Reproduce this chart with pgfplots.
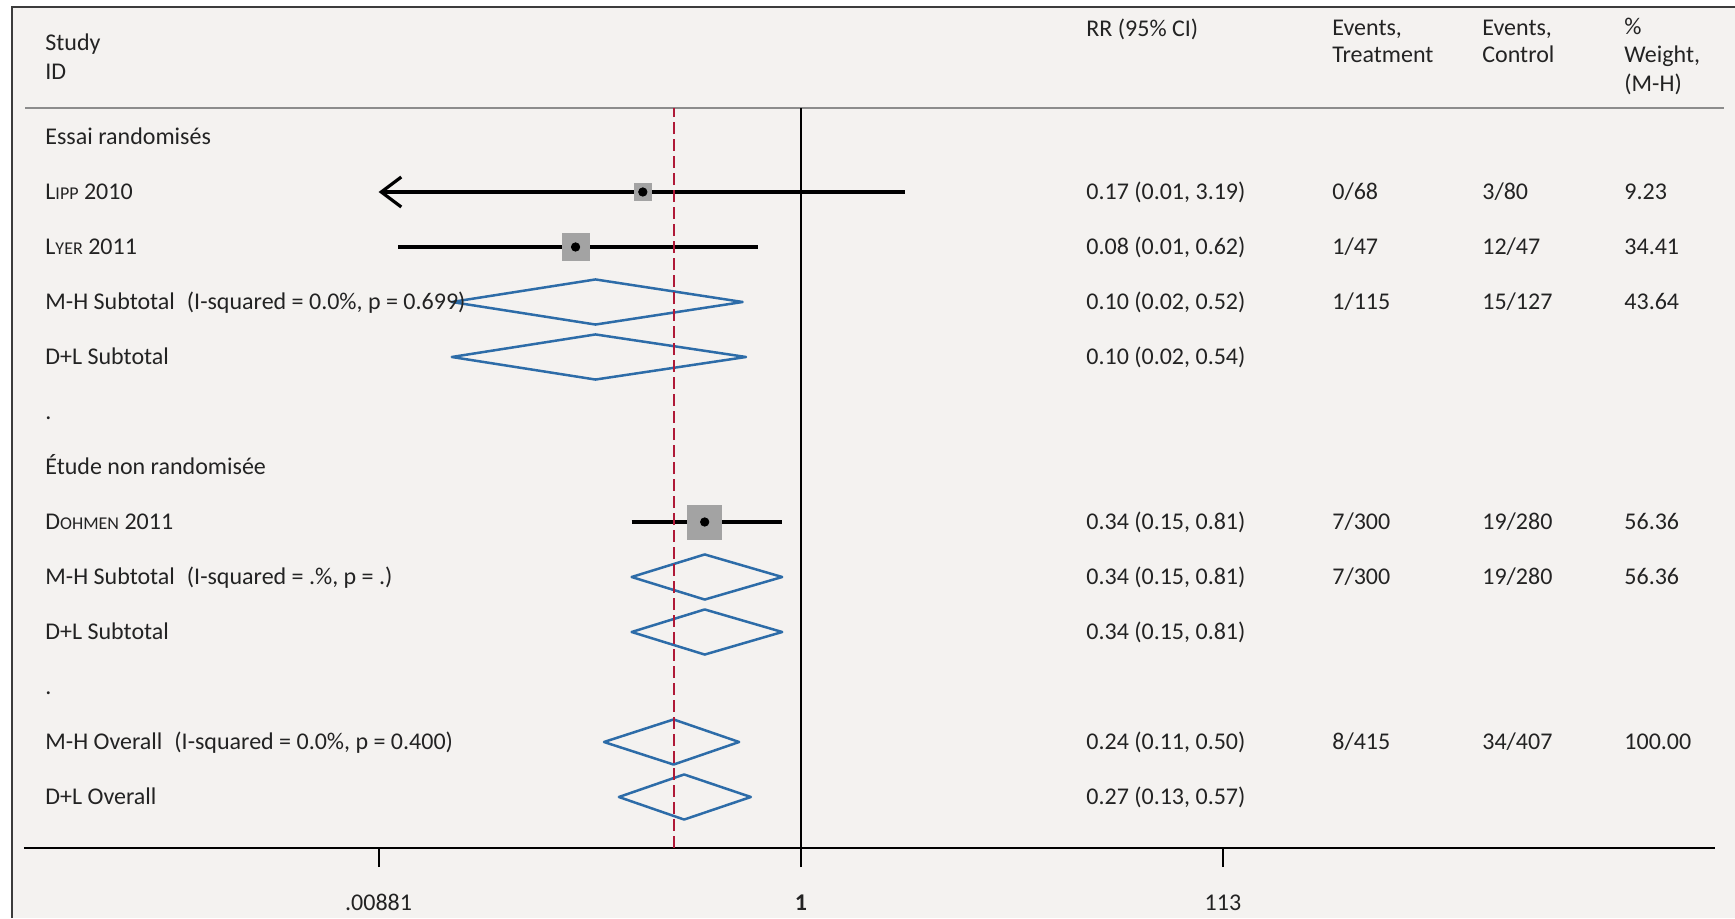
\documentclass[border=0pt]{standalone}
\usepackage{pgfplots}
\pgfplotsset{compat=1.18}
\usepackage{fontspec}
\setmainfont{Carlito}
\usetikzlibrary{arrows.meta}

\definecolor{panel}{RGB}{244,242,240}
\definecolor{framec}{RGB}{60,60,60}
\definecolor{rulec}{RGB}{140,140,140}
\definecolor{diam}{RGB}{45,108,168}
\definecolor{refred}{RGB}{175,25,55}
\definecolor{boxgray}{RGB}{163,163,163}
\definecolor{ink}{RGB}{35,35,35}

% small capitals for author names
\newcommand\SC[1]{{\fontsize{9}{10}\selectfont #1}}

\begin{document}
\fontsize{12}{14.4}\selectfont
\begin{tikzpicture}
\path[use as bounding box] (0,0) rectangle (867.5pt,459pt);
\fill[white] (0,0) rectangle (867.5pt,459pt);
\fill[panel] (6pt,0) rectangle (867.5pt,455.5pt);
\draw[framec, line width=1pt] (6pt,0) -- (6pt,455.5pt) -- (867.5pt,455.5pt);
\draw[rulec, line width=1pt] (12.5pt,405pt) -- (862pt,405pt);

\begin{axis}[
  at={(12pt,35pt)}, anchor=south west,
  scale only axis, width=845.5pt, height=370pt,
  xmode=log, xmin=1.6575e-4, xmax=28001,
  ymin=0.0727, ymax=13.527,
  axis x line*=bottom, axis y line=none,
  axis line style={-, black, line width=1pt},
  xtick={0.00881,1,113}, xticklabels={.00881,\textbf{1},113},
  ytick=\empty,
  tick align=outside, major tick length=9.5pt,
  tick style={black, line width=0.9pt},
  xticklabel style={anchor=base, inner sep=0pt, yshift=-21.5pt, text=ink},
  clip=false,
]
% line of no effect
\addplot[black, line width=0.8pt] coordinates {(1,0.0727) (1,13.527)};

% study weights
\addplot[only marks, mark=square*, mark size=4.25pt, boxgray, mark options={draw=boxgray, fill=boxgray}] coordinates {(0.17,12)};
\addplot[only marks, mark=square*, mark size=6.75pt, boxgray, mark options={draw=boxgray, fill=boxgray}] coordinates {(0.08,11)};
\addplot[only marks, mark=square*, mark size=8.5pt, boxgray, mark options={draw=boxgray, fill=boxgray}] coordinates {(0.34,6)};

% confidence intervals
\addplot[black, line width=1.6pt, {Straight Barb[length=10pt,width=15pt]}-] coordinates {(0.00881,12) (3.19,12)};
\addplot[black, line width=1.6pt] coordinates {(0.011,11) (0.62,11)};
\addplot[black, line width=1.6pt] coordinates {(0.15,6) (0.81,6)};

% point estimates
\addplot[only marks, mark=*, mark size=2.1pt, black] coordinates {(0.17,12) (0.08,11) (0.34,6)};

% pooled estimates
\addplot[diam, line width=1.25pt, line join=round, line cap=round] coordinates {(0.02,10) (0.10,10.41) (0.52,10) (0.10,9.59) (0.02,10)};
\addplot[diam, line width=1.25pt, line join=round, line cap=round] coordinates {(0.02,9) (0.10,9.41) (0.54,9) (0.10,8.59) (0.02,9)};
\addplot[diam, line width=1.25pt, line join=round, line cap=round] coordinates {(0.15,5) (0.34,5.41) (0.81,5) (0.34,4.59) (0.15,5)};
\addplot[diam, line width=1.25pt, line join=round, line cap=round] coordinates {(0.15,4) (0.34,4.41) (0.81,4) (0.34,3.59) (0.15,4)};
\addplot[diam, line width=1.25pt, line join=round, line cap=round] coordinates {(0.11,2) (0.24,2.41) (0.50,2) (0.24,1.59) (0.11,2)};
\addplot[diam, line width=1.25pt, line join=round, line cap=round] coordinates {(0.13,1) (0.27,1.41) (0.57,1) (0.27,0.59) (0.13,1)};

% overall M-H estimate
\addplot[refred, line width=0.9pt, dash pattern=on 6pt off 2.5pt] coordinates {(0.24,0.0727) (0.24,13.527)};

% column and row anchors for the table
\coordinate (cID) at (rel axis cs:0.01242,0);
\coordinate (cRR) at (rel axis cs:0.6280,0);
\coordinate (cT)  at (rel axis cs:0.7735,0);
\coordinate (cC)  at (rel axis cs:0.8622,0);
\coordinate (cW)  at (rel axis cs:0.9462,0);
\coordinate (r1) at (axis cs:1,13);
\coordinate (r2) at (axis cs:1,12);
\coordinate (r3) at (axis cs:1,11);
\coordinate (r4) at (axis cs:1,10);
\coordinate (r5) at (axis cs:1,9);
\coordinate (r6) at (axis cs:1,8);
\coordinate (r7) at (axis cs:1,7);
\coordinate (r8) at (axis cs:1,6);
\coordinate (r9) at (axis cs:1,5);
\coordinate (r10) at (axis cs:1,4);
\coordinate (r11) at (axis cs:1,3);
\coordinate (r12) at (axis cs:1,2);
\coordinate (r13) at (axis cs:1,1);
\end{axis}

\begin{scope}[every node/.style={anchor=base west, inner sep=0pt, text=ink, yshift=-3.9pt}]
% header
\node at (22.5pt,437.5pt) {Study};
\node at (22.5pt,423pt) {ID};
\node at (543pt,444.5pt) {RR (95\% CI)};
\node at (666pt,445pt) {Events,};
\node at (666pt,431.5pt) {Treatment};
\node at (741pt,445pt) {Events,};
\node at (741pt,431.5pt) {Control};
\node at (812pt,445.5pt) {\%};
\node at (812pt,431.5pt) {Weight,};
\node at (812pt,417pt) {(M-H)};

% study labels
\node at (cID |- r1) {Essai randomisés};
\node at (cID |- r2) {L\SC{IPP} 2010};
\node at (cID |- r3) {L\SC{YER} 2011};
\node at (cID |- r4) {M-H Subtotal\hspace{0.5em}(I-squared = 0.0\%, p = 0.699)};
\node at (cID |- r5) {D+L Subtotal};
\node at (cID |- r6) {.};
\node at (cID |- r7) {Étude non randomisée};
\node at (cID |- r8) {D\SC{OHMEN} 2011};
\node at (cID |- r9) {M-H Subtotal\hspace{0.5em}(I-squared = .\%, p = .)};
\node at (cID |- r10) {D+L Subtotal};
\node at (cID |- r11) {.};
\node at (cID |- r12) {M-H Overall\hspace{0.5em}(I-squared = 0.0\%, p = 0.400)};
\node at (cID |- r13) {D+L Overall};

% RR (95% CI)
\node at (cRR |- r2) {0.17 (0.01, 3.19)};
\node at (cRR |- r3) {0.08 (0.01, 0.62)};
\node at (cRR |- r4) {0.10 (0.02, 0.52)};
\node at (cRR |- r5) {0.10 (0.02, 0.54)};
\node at (cRR |- r8) {0.34 (0.15, 0.81)};
\node at (cRR |- r9) {0.34 (0.15, 0.81)};
\node at (cRR |- r10) {0.34 (0.15, 0.81)};
\node at (cRR |- r12) {0.24 (0.11, 0.50)};
\node at (cRR |- r13) {0.27 (0.13, 0.57)};

% events, treatment
\node at (cT |- r2) {0/68};
\node at (cT |- r3) {1/47};
\node at (cT |- r4) {1/115};
\node at (cT |- r8) {7/300};
\node at (cT |- r9) {7/300};
\node at (cT |- r12) {8/415};

% events, control
\node at (cC |- r2) {3/80};
\node at (cC |- r3) {12/47};
\node at (cC |- r4) {15/127};
\node at (cC |- r8) {19/280};
\node at (cC |- r9) {19/280};
\node at (cC |- r12) {34/407};

% weight
\node at (cW |- r2) {9.23};
\node at (cW |- r3) {34.41};
\node at (cW |- r4) {43.64};
\node at (cW |- r8) {56.36};
\node at (cW |- r9) {56.36};
\node at (cW |- r12) {100.00};
\end{scope}
\end{tikzpicture}
\end{document}
